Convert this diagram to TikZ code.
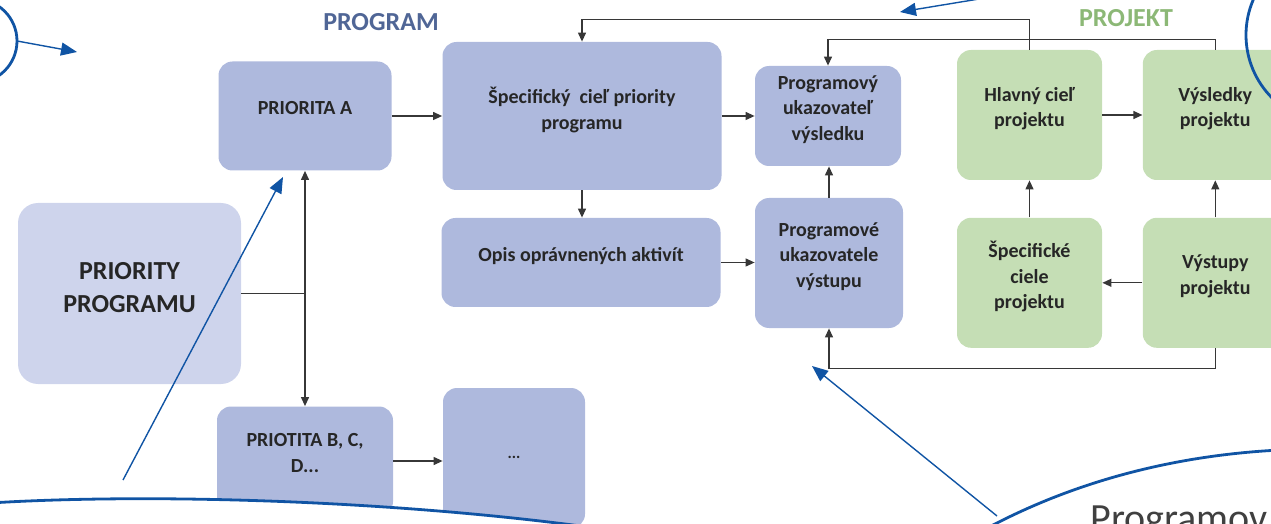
\documentclass[tikz,border=0pt]{standalone}
\usepackage{fontspec}
\setmainfont{Carlito}
\usepackage{xcolor}
\usepackage{tikz}
\usetikzlibrary{arrows.meta,positioning}

\definecolor{progfill}{RGB}{174,185,221}
\definecolor{rootfill}{RGB}{206,212,236}
\definecolor{projfill}{RGB}{197,222,181}
\definecolor{progtext}{RGB}{80,102,150}
\definecolor{projtext}{RGB}{140,184,118}
\definecolor{connector}{RGB}{55,55,55}
\definecolor{notecol}{RGB}{16,84,164}

\begin{document}
\begin{tikzpicture}[
  x=0.5pt, y=-0.5pt,
  font=\bfseries\fontsize{10}{12.8}\selectfont,
  block/.style={fill=progfill, rounded corners=7pt, inner sep=2pt, align=center, text=black!85, text depth=8pt},
  root/.style={block, fill=rootfill, rounded corners=10pt, text depth=6.5pt, font=\bfseries\fontsize{13}{16.5}\selectfont},
  project/.style={block, fill=projfill, minimum width=72.5pt, minimum height=65pt},
  title/.style={font=\bfseries\fontsize{13}{15}\selectfont},
  arrow/.style={-{Triangle[length=4.5pt,width=4pt]}, draw=connector, line width=0.6pt},
  link/.style={draw=connector, line width=0.6pt},
  callout/.style={draw=notecol, line width=1.4pt},
  pointer/.style={-{Triangle[length=8pt,width=6.5pt]}, draw=notecol, line width=0.7pt},
  bigtext/.style={font=\fontsize{20}{24}\selectfont, text=black!75, inner sep=0pt}
]
\useasboundingbox (0,0) rectangle (1271,524);
\clip (0,0) rectangle (1271,524);

% titles
\node[title, text=progtext] (progtitle) at (381,22) {PROGRAM};
\node[title, text=projtext] (projtitle) at (1126,18) {PROJEKT};

% program side
\node[root, minimum width=111.5pt, minimum height=90.5pt] (priority) at (129.5,293.5) {PRIORITY\\PROGRAMU};
\node[block, minimum width=86.5pt, minimum height=54.5pt] (prioa) at (305,116) {PRIORITA A};
\node[block, minimum width=88pt, minimum height=54.5pt] (priobcd) at (305,461) {PRIOTITA B, C,\\D...};
\node[block, minimum width=71pt, minimum height=70pt, text depth=1pt, font=\bfseries\fontsize{8}{10}\selectfont] (dots) at (514,458) {...};
\node[block, minimum width=139.5pt, minimum height=74pt] (goal) at (582,116) {Špecifický\ \ cieľ priority\\programu};
\node[block, minimum width=139.5pt, minimum height=44.5pt] (activities) at (581,262.5) {Opis oprávnených aktivít};
\node[block, minimum width=73pt, minimum height=50pt] (resultind) at (828,116) {Programový\\ukazovateľ\\výsledku};
\node[block, minimum width=74pt, minimum height=65pt] (outputind) at (829,263) {Programové\\ukazovatele\\výstupu};

% project side
\node[project] (maingoal) at (1029.5,115) {Hlavný cieľ\\projektu};
\node[project, right=20pt of maingoal] (results) {Výsledky\\projektu};
\node[project, below=18.5pt of maingoal] (specgoals) {Špecifické\\ciele\\projektu};
\node[project, below=18.5pt of results] (outputs) {Výstupy\\projektu};

% connectors
\coordinate (fork) at (prioa.south |- priority.east);
\draw[link] (priority.east) -- (fork);
\draw[arrow] (fork) -- (prioa.south);
\draw[arrow] (fork) -- (priobcd.north);
\draw[arrow] (prioa) -- (goal);
\draw[arrow] (priobcd.east) -- (priobcd.east -| dots.west);
\draw[arrow] (goal) -- (resultind);
\draw[arrow] (goal.south) -- (goal.south |- activities.north);
\draw[arrow] (activities.east) -- (activities.east -| outputind.west);
\draw[arrow] (outputind.north) -- (outputind.north |- resultind.south);
\draw[arrow] (maingoal) -- (results);
\draw[arrow] (specgoals) -- (maingoal);
\draw[arrow] (outputs) -- (results);
\draw[arrow] (outputs) -- (specgoals);
\draw[arrow] (maingoal.north) -- ++(0,-30) -| (goal.north);
\draw[arrow] (results.north) -- ++(0,-10) -| (resultind.north);
\draw[arrow] (outputs.south) -- ++(0,20) -| (outputind.south);

% callouts laid over the diagram
\fill[white] (-10,503) .. controls (150,493) and (400,500) .. (610,530) -- (610,540) -- (-10,540) -- cycle;
\draw[callout] (-10,503) .. controls (150,493) and (400,500) .. (610,530);
\fill[white] (980,532) .. controls (1060,488) and (1160,456) .. (1280,450) -- (1280,540) -- (980,540) -- cycle;
\draw[callout] (980,532) .. controls (1060,488) and (1160,456) .. (1280,450);
\draw[callout] (-25,41) circle[radius=21pt];
\draw[callout] (1335,35) circle[radius=44.5pt];
\node[bigtext, anchor=base west] (bignote) at (1090,531) {Programov};

\coordinate (tlstart) at (17,41);
\coordinate (tlend) at (77,52);
\coordinate (topstart) at (985,-2);
\coordinate (topend) at (900,12);
\coordinate (leftstart) at (123,480);
\coordinate (leftend) at (283,177);
\coordinate (rightstart) at (997,516);
\coordinate (rightend) at (812,366);
\draw[pointer] (tlstart) -- (tlend);
\draw[pointer] (topstart) -- (topend);
\draw[pointer] (leftstart) -- (leftend);
\draw[pointer] (rightstart) -- (rightend);
\end{tikzpicture}
\end{document}
